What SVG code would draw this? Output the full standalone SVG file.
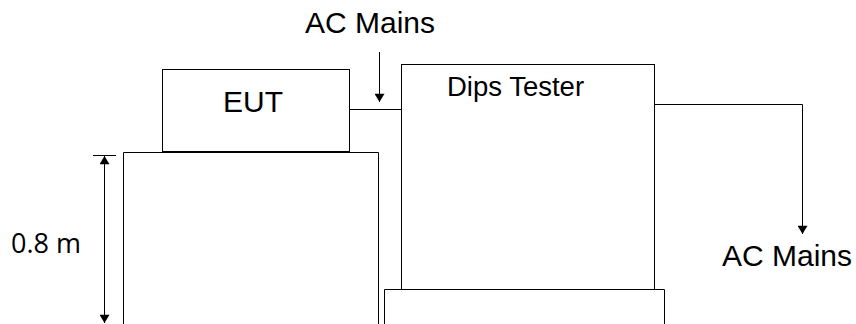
<svg xmlns="http://www.w3.org/2000/svg" width="856" height="324" viewBox="0 0 856 324">
<defs>
<style>
.ln{fill:none;stroke:#000;stroke-width:1}
.bx{fill:#fff;stroke:#000;stroke-width:1}
.t{font-family:"Liberation Sans",Arial,sans-serif;font-size:30px;fill:#000}
.t2{font-family:"Open Sans","DejaVu Sans",sans-serif;font-size:26px;fill:#000}
</style>
<marker id="ah" viewBox="0 0 10 12" refX="10" refY="6" markerWidth="12" markerHeight="10" markerUnits="userSpaceOnUse" orient="auto">
<path d="M0,0 L10,6 L0,12 Z" fill="#000"/>
</marker>
</defs>
<rect width="856" height="324" fill="#fff"/>
<g id="table">
<path class="ln" d="M123.5,330 V152.5 H378.5 V330"/>
</g>
<g id="table2">
<path class="ln" d="M384.5,330 V289.5 H664.5 V330"/>
</g>
<g id="eut">
<rect class="bx" x="162.5" y="69.5" width="187" height="82"/>
<text class="t" x="253" y="112" text-anchor="middle">EUT</text>
</g>
<g id="tester">
<rect class="bx" x="401.5" y="64.5" width="253" height="225"/>
<text class="t" x="447" y="96" style="font-size:27.5px">Dips Tester</text>
</g>
<g id="labels">
<text class="t" x="305" y="33">AC Mains</text>
<text class="t" x="722" y="266">AC Mains</text>
<text class="t2" x="11" y="253" style="font-size:27px">0.8 m</text>
</g>
<g id="connectors">
<path class="ln" d="M349.5,109.5 H401.5"/>
<path class="ln" d="M379.5,52 V102" marker-end="url(#ah)"/>
<path class="ln" d="M654.5,104.5 H802.5 V234" marker-end="url(#ah)"/>
<path class="ln" d="M93,155.5 H116"/>
<path class="ln" d="M104.5,240 V156" marker-end="url(#ah)"/>
<path class="ln" d="M104.5,240 V323" marker-end="url(#ah)"/>
</g>
</svg>
